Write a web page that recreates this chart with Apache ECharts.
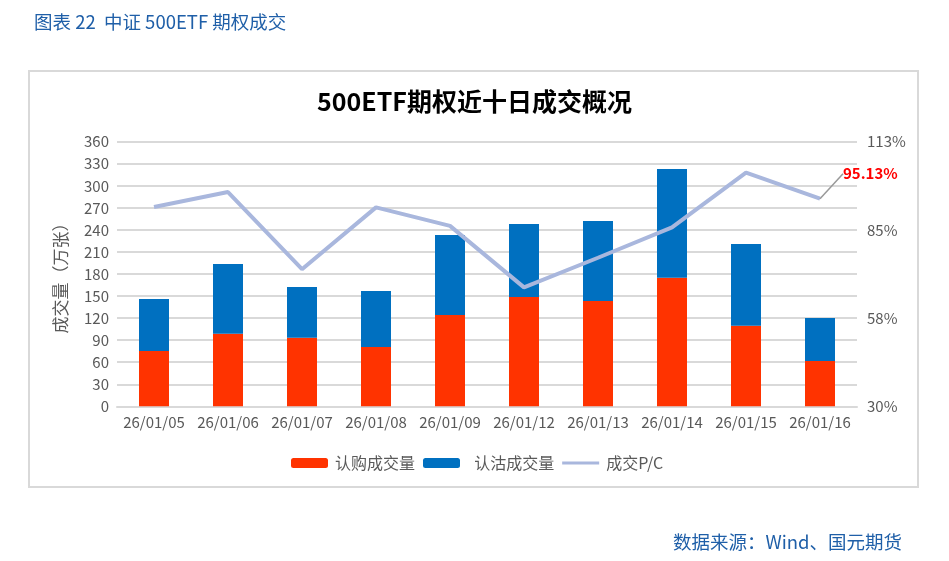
<!DOCTYPE html>
<html>
<head>
    <meta charset="utf-8">
    <title>500ETF期权近十日成交概况</title>
    <script src="https://cdn.jsdelivr.net/npm/echarts@6.0.0/dist/echarts.min.js"></script>
    <style>
        html, body { margin: 0; padding: 0; background: #fff; }
        #main { width: 949px; height: 561px; }
    </style>
</head>
<body>
<div id="main"></div>
<script type="text/javascript">
    // 日期
    var dates = ['26/01/05', '26/01/06', '26/01/07', '26/01/08', '26/01/09',
                 '26/01/12', '26/01/13', '26/01/14', '26/01/15', '26/01/16'];
    // 认购成交量（万张）
    var callVol = [75.3, 98.8, 93.4, 80.7, 124.2, 148.7, 143.3, 175.0, 109.7, 61.7];
    // 认沽成交量（万张）
    var putVol = [70.7, 94.8, 68.9, 76.2, 108.8, 99.3, 108.8, 147.8, 111.1, 58.5];
    // 成交P/C（%）
    var pcRatio = [92.5, 97.2, 73.0, 92.4, 86.6, 67.3, 76.6, 86.1, 103.3, 95.13];
    // 右轴刻度
    var rightTicks = [30, 57.67, 85.33, 113];

    var font = '"Microsoft YaHei", "Noto Sans CJK SC", sans-serif';
    var grey = '#595959';

    // 只给最后一天加数据标签
    var pcData = pcRatio.map(function (v, i) {
        if (i === pcRatio.length - 1) {
            return {
                value: v,
                label: {
                    show: true,
                    position: 'right',
                    formatter: v.toFixed(2) + '%',
                    color: '#ff0000',
                    fontWeight: 'bold',
                    fontSize: 15,
                    fontFamily: font
                },
                labelLine: { show: true, lineStyle: { color: '#999', width: 1.5 } }
            };
        }
        return v;
    });

    var myChart = echarts.init(document.getElementById('main'));
    var option = {
        backgroundColor: '#fff',
        animation: false,
        title: [
            {
                text: '图表 22  中证 500ETF 期权成交',
                left: 29, top: 8,
                textStyle: { color: '#1f5fa8', fontSize: 18.5, fontWeight: 'normal', fontFamily: font }
            },
            {
                text: '500ETF期权近十日成交概况',
                left: 'center', top: 84,
                textStyle: { color: '#000', fontSize: 25, fontWeight: 'bold', fontFamily: font }
            },
            {
                text: '数据来源：Wind、国元期货',
                right: 42, top: 528,
                textStyle: { color: '#1f5fa8', fontSize: 18.5, fontWeight: 'normal', fontFamily: font }
            }
        ],
        graphic: [
            {
                type: 'rect',
                shape: { x: 29, y: 71, width: 889, height: 416 },
                style: { fill: 'none', stroke: '#d9d9d9', lineWidth: 2 },
                silent: true
            }
        ],
        legend: {
            top: 450,
            left: 286,
            itemWidth: 37,
            itemHeight: 10,
            itemGap: 8,
            textStyle: { color: grey, fontSize: 16, fontFamily: font, padding: [0, 0, 0, 2] },
            formatter: function (name) {
                return name === '认沽成交量' ? '  ' + name : name;
            },
            data: [
                '认购成交量',
                '认沽成交量',
                {
                    name: '成交P/C',
                    icon: 'path://M0,0 h0.01 v0.01 h-0.01 Z M0,3.5 h37 v3 h-37 Z M0,10 h0.01 v-0.01 h-0.01 Z'
                }
            ]
        },
        grid: { left: 117, right: 92, top: 141.7, bottom: 154.7 },
        xAxis: {
            type: 'category',
            data: dates,
            axisLine: { lineStyle: { color: '#d9d9d9', width: 2 } },
            axisTick: { show: false },
            axisLabel: { interval: 0, color: grey, fontSize: 15, fontFamily: font, margin: 8 }
        },
        yAxis: [
            {
                type: 'value',
                min: 0, max: 360, interval: 30,
                name: '成交量（万张）',
                nameLocation: 'middle',
                nameGap: 48,
                nameRotate: 90,
                nameTextStyle: { color: grey, fontSize: 17, fontFamily: font },
                axisLine: { show: false },
                axisTick: { show: false },
                axisLabel: { color: grey, fontSize: 15, fontFamily: font },
                splitLine: { lineStyle: { color: '#d9d9d9', width: 2 } }
            },
            {
                type: 'value',
                min: 30, max: 113,
                position: 'right',
                axisLine: { show: false },
                axisTick: { show: false },
                splitLine: { show: false },
                axisLabel: {
                    customValues: rightTicks,
                    color: grey, fontSize: 15, fontFamily: font, margin: 10,
                    formatter: function (v) { return Math.round(v) + '%'; }
                }
            }
        ],
        series: [
            {
                name: '认购成交量',
                type: 'bar',
                stack: 'vol',
                barWidth: 30,
                itemStyle: { color: '#ff3300' },
                data: callVol
            },
            {
                name: '认沽成交量',
                type: 'bar',
                stack: 'vol',
                barWidth: 30,
                itemStyle: { color: '#0070c0' },
                data: putVol
            },
            {
                name: '成交P/C',
                type: 'line',
                yAxisIndex: 1,
                symbol: 'circle',
                symbolSize: 0,
                showSymbol: true,
                lineStyle: { color: '#a9b7dd', width: 4 },
                itemStyle: { color: '#a9b7dd' },
                labelLayout: { dx: 18, dy: -25 },
                data: pcData
            }
        ]
    };
    myChart.setOption(option);
</script>
</body>
</html>
